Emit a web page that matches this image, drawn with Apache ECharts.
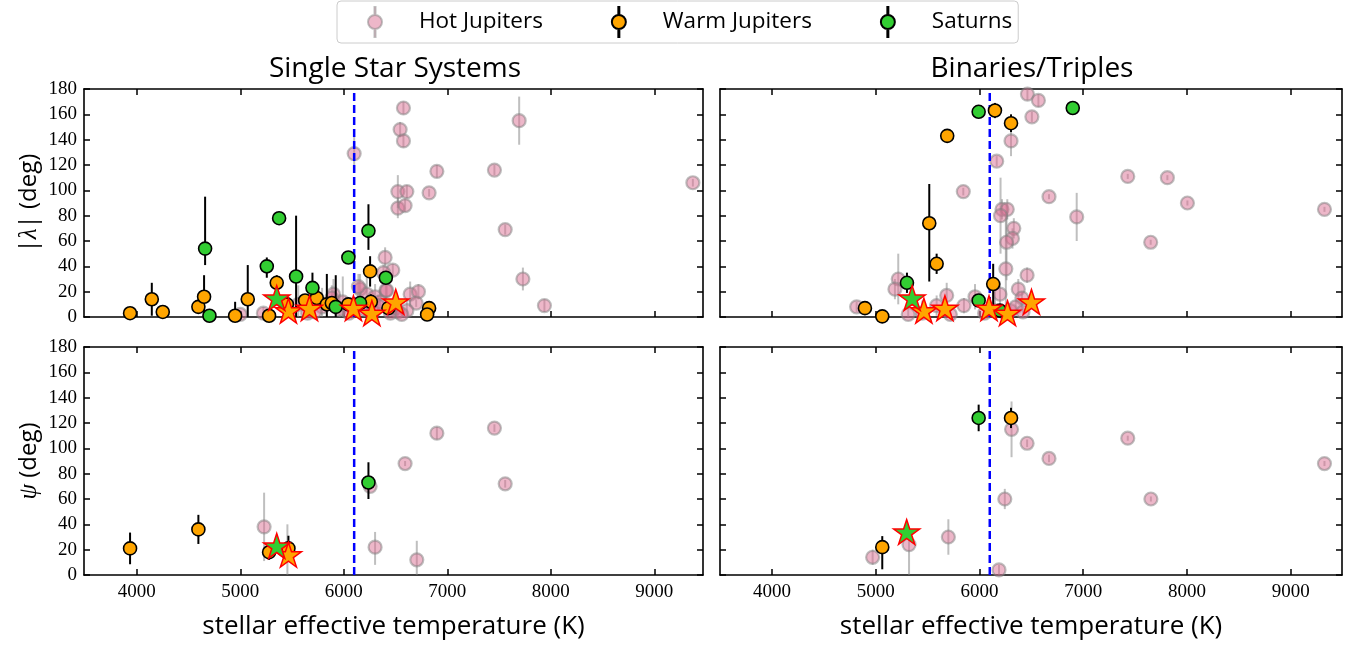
<!DOCTYPE html>
<html><head><meta charset="utf-8">
<script src="https://cdn.jsdelivr.net/npm/echarts@6/dist/echarts.min.js"></script>
<style>html,body{margin:0;padding:0;background:#fff}#c{width:1364px;height:645px}</style>
</head><body><div id="c"></div><script>
// ---------- data: [Teff (K), angle (deg), err low, err high] ----------
const TEFF_TICKS = [4000, 5000, 6000, 7000, 8000, 9000];
const KRAFT_BREAK = 6100;

const hjSingleLambda = [[6100,129,14,14],[6576,165,5,5],[6544,148,6,6],[6576,139,5,5],[7694,155,19,19],[6899,115,5,5],[7455,116,4,4],[9372,106,3,3],[6522,99,13,13],[6609,99,5,5],[6824,98,3,3],[6522,86,8,8],[6592,88,5,5],[7559,69,4,4],[7730,30,9,9],[7938,9,5,5],[6399,47,8,8],[6473,37,5,5],[6383,35,6,6],[6406,21,8,8],[6641,18,10,10],[6721,20,6,6],[6699,11,3,3],[6157,22,12,12],[6222,18,15,15],[6302,16,10,10],[6350,12,10,10],[6415,21,6,6],[6609,5,8,8],[6522,4,6,6],[5900,18,12,12],[5223,3,5,5],[5000,2,3,3],[5884,15,10,10],[6141,24,10,10],[5790,8,15,15],[5960,6,12,12],[6050,3,8,8],[6200,6,8,8],[6280,4,5,5],[6330,9,8,8],[6450,3,4,4],[6500,7,5,5],[6560,2,3,3],[5720,4,10,10],[5650,3,6,6],[5560,10,15,15],[5990,12,20,20]];
const wjSingleLambda = [[3935,3,1,1],[4145,14,13,13],[4251,4,1,1],[4595,8,2,2],[4650,16,17,17],[4950,1,11,11],[5072,14,27,27],[5278,1,1,1],[5352,27,6,6],[5450,10,4,4],[5626,13,4,4],[5739,15,6,6],[5836,10,10,24],[5884,11,3,3],[6044,10,4,4],[6254,36,12,12],[6261,12,6,6],[6431,7,3,3],[6824,7,3,3],[6805,2,2,2]];
const satSingleLambda = [[4660,54,13,41],[4702,1,1,1],[5256,40,9,7],[5375,78,2,2],[5539,32,32,48],[5697,23,11,12],[5922,8,8,25],[6044,47,3,3],[6157,11,3,3],[6238,68,15,21],[6406,31,4,4]];
const starOrangeLambda = [[5465,5],[5668,7],[6093,7],[6271,3],[6502,12]];
const starGreenLambda = [[5352,15]];

const hjBinaryLambda = [[6463,176,5,5],[6569,171,5,5],[6506,158,4,4],[6305,139,12,12],[6167,123,4,4],[5845,99,3,3],[6218,85,8,8],[6269,85,8,8],[6204,80,30,30],[6332,70,8,8],[6319,62,8,8],[6262,59,30,30],[6255,38,45,45],[6460,33,6,6],[5218,30,20,20],[5186,22,8,8],[4817,8,4,4],[5685,17,10,10],[5958,16,10,10],[6199,18,10,10],[6375,22,8,8],[5851,9,6,6],[5588,9,8,8],[5314,2,5,5],[7430,111,2,2],[7812,110,2,2],[6671,95,2,2],[8005,90,2,2],[9326,85,2,2],[6938,79,19,19],[7651,59,2,2],[6410,15,5,5],[6300,5,4,4],[6350,8,5,5],[6250,3,3,3],[6420,4,4,4],[6150,5,15,15],[6050,3,5,5],[5450,3,10,10],[5720,2,6,6]];
const wjBinaryLambda = [[4897,7,1,1],[5064,0.5,1,1],[5690,143,2,2],[6150,163,6,6],[6305,153,7,7],[5517,74,46,31],[5588,42,8,8],[6133,26,26,16]];
const satBinaryLambda = [[5993,162,2,2],[5302,27,8,8],[5993,13,3,3],[6199,5,3,3],[6900,165,2,2]];

const hjSinglePsi = [[5230,38,27,27],[5455,20,20,20],[6254,70,3,3],[6302,22,14,12],[6899,112,5,5],[7455,116,3,3],[6592,88,2,2],[7559,72,3,3],[6705,12,15,15]];
const wjSinglePsi = [[3935,21,12.5,12.5],[4595,36,11.5,11.5],[5278,18,6,6],[5465,21,10,10]];
const satSinglePsi = [[6238,73,13,16]];
const starOrangePsiSingle = [[5465,16]];
const starGreenPsiSingle = [[5352,23]];

const hjBinaryPsi = [[4971,14,6,6],[5322,24,24,14],[5701,30,14,14],[6189,4,4,4],[6245,60,8,8],[6310,115,22,22],[6460,104,3,3],[6671,92,3,3],[7430,108,2,2],[7653,60,2,2],[9326,88,2,2]];
const wjBinaryPsi = [[5064,22,17.5,8.7],[6305,124,8,8]];
const satBinaryPsi = [[5993,124,10.5,10.5]];
const starGreenPsiBinary = [[5299,34]];

// ---------- styling / layout ----------
const SANS = '"Open Sans", Lato, "DejaVu Sans", sans-serif';
const SERIF = '"Liberation Serif", "DejaVu Serif", serif';
const STAR = 'path://M0,-1 L0.2245,-0.309 L0.951,-0.309 L0.363,0.118 L0.588,0.809 L0,0.382 L-0.588,0.809 L-0.363,0.118 L-0.951,-0.309 L-0.2245,-0.309 Z';
const LEG_ICON = 'path://M14,15 A7,7 0 1,1 0,15 A7,7 0 1,1 14,15 Z M6.5,0 L7.5,0 L7.5,8 L6.5,8 Z M6.5,22 L7.5,22 L7.5,30 L6.5,30 Z';

const panels = [
  {grid:{left:84, top:89, width:619, height:228}, xr:[3490,9470], showX:false, showY:true, yName:'|{i|λ}| (deg)',
   hj:hjSingleLambda, wj:wjSingleLambda, sat:satSingleLambda, so:starOrangeLambda, sg:starGreenLambda},
  {grid:{left:720, top:89, width:622, height:228}, xr:[3500,9495], showX:false, showY:false, yName:'',
   hj:hjBinaryLambda, wj:wjBinaryLambda, sat:satBinaryLambda, so:starOrangeLambda, sg:starGreenLambda},
  {grid:{left:84, top:347, width:619, height:228}, xr:[3490,9470], showX:true, showY:true, yName:'{i|ψ} (deg)',
   hj:hjSinglePsi, wj:wjSinglePsi, sat:satSinglePsi, so:starOrangePsiSingle, sg:starGreenPsiSingle},
  {grid:{left:720, top:347, width:622, height:228}, xr:[3500,9495], showX:true, showY:false, yName:'',
   hj:hjBinaryPsi, wj:wjBinaryPsi, sat:satBinaryPsi, so:[], sg:starGreenPsiBinary}
];

const lineCol = '#000';
const xAxes = [], yAxes = [], series = [];
function xAxisDef(g, p, pos, labels) {
  return {type:'value', gridIndex:g, position:pos, min:p.xr[0], max:p.xr[1],
    axisLine:{onZero:false, lineStyle:{color:lineCol, width:1.6}},
    axisTick:{inside:true, length:6, lineStyle:{color:lineCol, width:1.5}, customValues:TEFF_TICKS},
    axisLabel:{show:labels, customValues:TEFF_TICKS, margin:8, color:'#000', fontFamily:SERIF, fontSize:19,
      formatter:function(v){ return String(v); }},
    splitLine:{show:false},
    name: (labels ? 'stellar effective temperature (K)' : ''), nameLocation:'middle', nameGap:39,
    nameTextStyle:{fontFamily:SANS, fontSize:26, color:'#000'}};
}
function yAxisDef(g, p, pos, labels, name) {
  return {type:'value', gridIndex:g, position:pos, min:0, max:180, interval:20,
    axisLine:{onZero:false, lineStyle:{color:lineCol, width:1.6}},
    axisTick:{inside:true, length:6, lineStyle:{color:lineCol, width:1.5}},
    axisLabel:{show:labels, margin:7, color:'#000', fontFamily:SERIF, fontSize:19},
    splitLine:{show:false},
    name:name, nameLocation:'middle', nameGap:42, nameRotate:90,
    nameTextStyle:{fontFamily:SANS, fontSize:24, color:'#000',
      rich:{i:{fontFamily:SERIF, fontStyle:'italic', fontSize:25, color:'#000'}}}};
}
function errSeries(name, data, g, color, width, opacity, z) {
  return {type:'custom', name:name, xAxisIndex:g, yAxisIndex:g, data:data, z:z, silent:true, clip:true,
    encode:{x:0, y:1},
    renderItem:function(params, api){
      const x = api.value(0), y = api.value(1), lo = api.value(2), hi = api.value(3);
      const a = api.coord([x, y - lo]), b = api.coord([x, y + hi]);
      return {type:'line', shape:{x1:a[0], y1:a[1], x2:b[0], y2:b[1]},
        style:{stroke:color, lineWidth:width, opacity:opacity}};
    }};
}
panels.forEach((p, g) => {
  xAxes[g] = xAxisDef(g, p, 'bottom', p.showX);
  xAxes[g + 4] = xAxisDef(g, p, 'top', false);
  yAxes[g] = yAxisDef(g, p, 'left', p.showY, p.yName);
  yAxes[g + 4] = yAxisDef(g, p, 'right', false, '');
  series.push(errSeries('hjErr', p.hj, g, '#808080', 2, 0.5, 1));
  series.push({type:'scatter', name:'Hot Jupiters', xAxisIndex:g, yAxisIndex:g, data:p.hj, silent:true,
    symbol:'circle', symbolSize:13, z:2,
    itemStyle:{color:'#db7093', borderColor:'#808080', borderWidth:2.2, opacity:0.5}});
  series.push({type:'line', name:'Kraft break', xAxisIndex:g, yAxisIndex:g, silent:true, z:3,
    data:[[KRAFT_BREAK,0],[KRAFT_BREAK,180]], symbol:'none',
    lineStyle:{color:'#0000ff', width:2.5, type:[8,4]}});
  series.push(errSeries('wjErr', p.wj, g, '#000', 2, 1, 4));
  series.push(errSeries('satErr', p.sat, g, '#000', 2, 1, 4));
  series.push({type:'scatter', name:'Warm Jupiters', xAxisIndex:g, yAxisIndex:g, data:p.wj, silent:true,
    symbol:'circle', symbolSize:13, z:5,
    itemStyle:{color:'#ffa500', borderColor:'#000', borderWidth:1.6, opacity:1}});
  series.push({type:'scatter', name:'Saturns', xAxisIndex:g, yAxisIndex:g, data:p.sat, silent:true,
    symbol:'circle', symbolSize:13, z:5,
    itemStyle:{color:'#32cd32', borderColor:'#000', borderWidth:1.6, opacity:1}});
  series.push({type:'scatter', name:'WJ star', xAxisIndex:g, yAxisIndex:g, data:p.so, silent:true,
    symbol:STAR, symbolSize:26, symbolKeepAspect:true, z:6,
    itemStyle:{color:'#ffa500', borderColor:'#ff0000', borderWidth:1.5, opacity:1}});
  series.push({type:'scatter', name:'Saturn star', xAxisIndex:g, yAxisIndex:g, data:p.sg, silent:true,
    symbol:STAR, symbolSize:26, symbolKeepAspect:true, z:6,
    itemStyle:{color:'#32cd32', borderColor:'#ff0000', borderWidth:1.5, opacity:1}});
});

const chart = echarts.init(document.getElementById('c'), null, {renderer:'canvas'});
chart.setOption({
  animation:false,
  backgroundColor:'#fff',
  title:[
    {text:'Single Star Systems', left:395, top:55, padding:0, textAlign:'center',
     textStyle:{fontFamily:SANS, fontSize:28, fontWeight:'normal', color:'#000'}},
    {text:'Binaries/Triples', left:1032, top:55, padding:0, textAlign:'center',
     textStyle:{fontFamily:SANS, fontSize:28, fontWeight:'normal', color:'#000'}}
  ],
  legend:{data:['Hot Jupiters','Warm Jupiters','Saturns'], left:337, top:1, orient:'horizontal',
    padding:[5,6,5,30], itemGap:68, itemWidth:14, itemHeight:30, icon:LEG_ICON,
    borderColor:'#cccccc', borderWidth:1, borderRadius:4, selectedMode:false,
    textStyle:{fontFamily:SANS, fontSize:22.5, color:'#000', padding:[0,0,0,32]}},
  grid:panels.map(p => p.grid),
  xAxis:xAxes, yAxis:yAxes, series:series
});
</script></body></html>
